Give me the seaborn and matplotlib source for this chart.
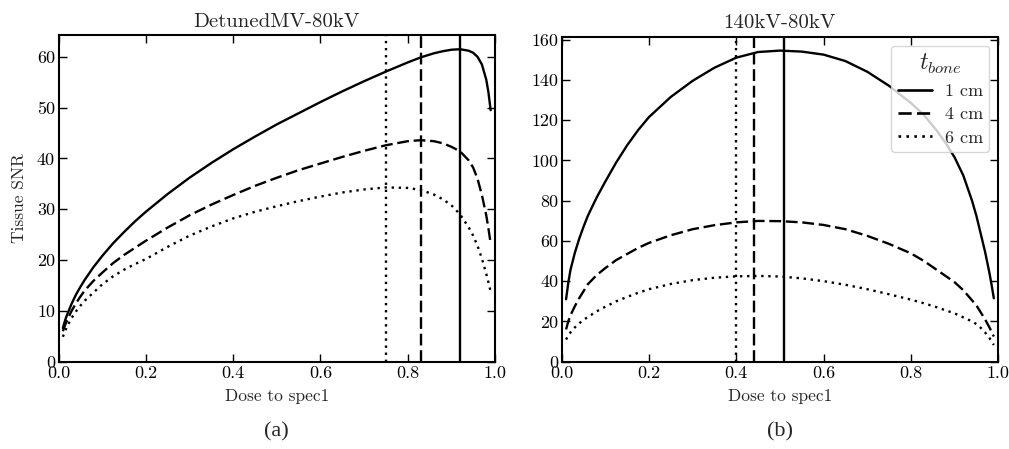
import numpy as np
import pandas as pd
import matplotlib
matplotlib.use("Agg")
import matplotlib.pyplot as plt
import seaborn as sns

# ---------------- data ----------------
thickness_labels = ["1 cm", "4 cm", "6 cm"]

dose_x = [0.01, 0.015, 0.02, 0.03, 0.04, 0.05, 0.06, 0.08, 0.1, 0.125, 0.15, 0.175,
          0.2, 0.25, 0.3, 0.35, 0.4, 0.45, 0.5, 0.55, 0.6, 0.65, 0.7, 0.75, 0.8,
          0.83, 0.86, 0.88, 0.9, 0.92, 0.94, 0.95, 0.96, 0.97, 0.98, 0.985, 0.99]

left_1cm = [6.6, 8.1, 9.3, 11.4, 13.2, 14.7, 16.1, 18.6, 20.8, 23.3, 25.5, 27.6,
            29.5, 33.0, 36.2, 39.1, 41.8, 44.3, 46.7, 48.9, 51.1, 53.2, 55.2, 57.1, 58.9,
            59.9, 60.7, 61.1, 61.4, 61.5, 61.2, 60.8, 60.0, 58.5, 55.5, 53.0, 49.5]
left_4cm = [6.0, 7.2, 8.2, 10.0, 11.5, 12.8, 14.0, 15.9, 17.5, 19.4, 21.0, 22.4,
            23.8, 26.4, 28.8, 30.9, 32.8, 34.6, 36.2, 37.7, 39.0, 40.3, 41.5, 42.6, 43.4,
            43.6, 43.4, 43.0, 42.3, 41.4, 39.6, 38.2, 36.0, 32.8, 28.8, 26.2, 23.3]
left_6cm = [4.9, 6.0, 7.0, 8.6, 9.9, 11.0, 12.0, 13.6, 15.2, 16.8, 18.1, 19.2,
            20.2, 22.6, 24.8, 26.6, 28.2, 29.5, 30.6, 31.6, 32.5, 33.3, 33.9, 34.3, 34.2,
            33.8, 32.9, 32.0, 30.8, 29.0, 26.4, 24.8, 22.8, 20.3, 17.3, 15.6, 13.8]
left_optima = [0.92, 0.83, 0.75]

right_1cm = [31.0, 39.0, 45.5, 54.0, 61.0, 67.0, 72.5, 81.5, 89.5, 99.0, 107.5, 115.0,
             121.5, 131.5, 139.5, 146.0, 151.0, 153.8, 154.5, 154.0, 152.5, 149.3, 144.0,
             137.0, 128.5, 122.5, 114.5, 108.5, 101.5, 92.5, 80.0, 72.5, 63.5, 54.5,
             44.0, 38.0, 31.5]
right_4cm = [16.0, 20.0, 23.0, 27.5, 31.5, 35.0, 38.5, 43.0, 46.5, 50.5, 53.5, 56.5,
             59.0, 62.8, 65.8, 67.8, 69.2, 69.9, 69.8, 69.2, 67.9, 65.8, 62.5, 58.5,
             53.8, 50.0, 45.5, 42.5, 39.5, 35.5, 30.5, 28.0, 24.5, 21.0, 17.0, 14.8, 12.5]
right_6cm = [11.0, 13.0, 14.5, 17.0, 19.0, 20.8, 22.2, 25.0, 27.3, 30.0, 32.2, 34.2,
             36.0, 38.6, 40.5, 41.7, 42.4, 42.6, 42.3, 41.4, 40.0, 38.2, 36.0, 33.5,
             30.8, 29.0, 27.0, 25.5, 24.0, 22.0, 20.0, 18.7, 16.8, 14.5, 11.8, 10.0, 8.3]
right_optima = [0.51, 0.44, 0.40]

titles = ["DetunedMV-80kV", "140kV-80kV"]
panel_labels = ["(a)", "(b)"]
x_ticks = [0.0, 0.2, 0.4, 0.6, 0.8, 1.0]
left_yticks = [0, 10, 20, 30, 40, 50, 60]
right_yticks = [0, 20, 40, 60, 80, 100, 120, 140, 160]


def long_frame(x, series):
    parts = []
    for lab, ys in zip(thickness_labels, series):
        parts.append(pd.DataFrame({"dose": x, "snr": ys, "t_bone": lab}))
    return pd.concat(parts, ignore_index=True)


df_left = long_frame(dose_x, [left_1cm, left_4cm, left_6cm])
df_right = long_frame(dose_x, [right_1cm, right_4cm, right_6cm])

# ---------------- style ----------------
sns.set_style("ticks")
plt.rcParams["font.family"] = ["cmr10", "DejaVu Serif"]
plt.rcParams["mathtext.fontset"] = "cm"
plt.rcParams["axes.formatter.use_mathtext"] = True
plt.rcParams["axes.unicode_minus"] = False
plt.rcParams["xtick.direction"] = "in"
plt.rcParams["ytick.direction"] = "in"
plt.rcParams["xtick.top"] = True
plt.rcParams["ytick.right"] = True

dash_map = {"1 cm": "", "4 cm": (5, 2), "6 cm": (1, 2)}
ls_map = {"1 cm": "-", "4 cm": (0, (5, 2)), "6 cm": (0, (1, 2))}

W, H = 1009, 449
fig = plt.figure(figsize=(W / 100, H / 100), dpi=100)
ax_l = fig.add_axes([58.5 / W, (H - 361.7) / H, 436.5 / W, (361.7 - 35) / H])
ax_r = fig.add_axes([561.7 / W, (H - 361.7) / H, 436.5 / W, (361.7 - 36.5) / H])

panels = [
    (ax_l, df_left, left_optima, (0, 64.3), left_yticks, False),
    (ax_r, df_right, right_optima, (0, 161.5), right_yticks, True),
]

for i, (ax, df, optima, ylim, yticks, show_leg) in enumerate(panels):
    sns.lineplot(data=df, x="dose", y="snr", style="t_bone",
                 style_order=thickness_labels, dashes=dash_map,
                 color="black", linewidth=1.7, ax=ax, legend=show_leg)
    for lab, xo in zip(thickness_labels, optima):
        ax.axvline(xo, color="black", linewidth=1.7, linestyle=ls_map[lab])
    ax.set_xlim(0, 1)
    ax.set_ylim(*ylim)
    ax.set_xticks(x_ticks)
    ax.set_xticklabels([f"{t:.1f}" for t in x_ticks])
    ax.set_yticks(yticks)
    ax.set_yticklabels([str(t) for t in yticks])
    ax.tick_params(axis="both", which="major", length=6, width=1.0,
                   labelsize=13, pad=2.5, colors="black")
    for sp in ax.spines.values():
        sp.set_linewidth(1.5)
        sp.set_color("black")
    ax.set_title(titles[i], fontsize=15, pad=6)
    ax.set_xlabel("Dose to spec1", fontsize=12.5, labelpad=6)
    ax.set_ylabel("Tissue SNR" if i == 0 else "", fontsize=12.5, labelpad=7)
    ax.text(0.5, -0.185, panel_labels[i], transform=ax.transAxes,
            ha="center", va="top", fontsize=16, family=["Liberation Serif"])
    if show_leg:
        handles, labels = ax.get_legend_handles_labels()
        leg = ax.legend(handles, labels, title=r"$t_{bone}$", loc="upper right",
                        fontsize=13, title_fontsize=17, frameon=True,
                        fancybox=True, framealpha=0.8, edgecolor="#cccccc",
                        handlelength=1.9, borderpad=0.35, labelspacing=0.42,
                        handletextpad=0.7, borderaxespad=0.5)
        for h in leg.get_lines():
            h.set_linewidth(1.9)

fig.savefig("out.png", dpi=100)
